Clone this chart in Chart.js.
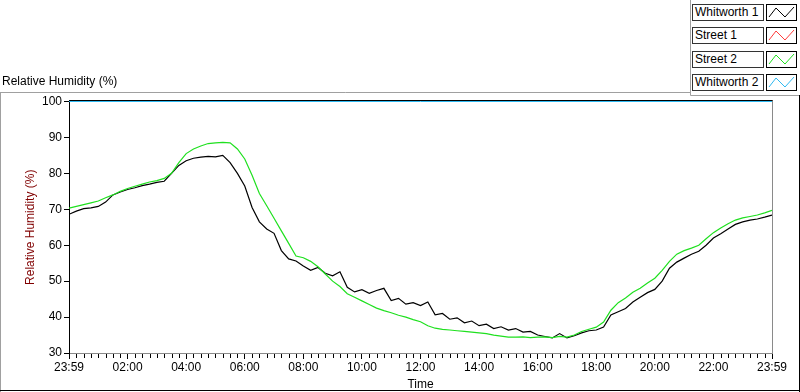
<!DOCTYPE html>
<html>
<head>
<meta charset="utf-8">
<script src="https://cdn.jsdelivr.net/npm/chart.js@4.4.1/dist/chart.umd.min.js"></script>
<style>
  body { margin: 0; background: #fff; font-family: "Liberation Sans", Arial, sans-serif; }
  #wrap { position: relative; width: 800px; height: 392px; overflow: hidden; }
  #myChart { position: absolute; left: 0; top: 0; }
  .caption { position: absolute; left: 2px; top: 74px; font-size: 12px; color: #000; }
  .lg-row { position: absolute; left: 692px; height: 16px; }
  .lg-text { position: absolute; left: 0; top: 0; border: 1px solid #333; background: #fff; font-size: 12px;
             line-height: 15px; padding-left: 2px; box-sizing: border-box; width: 72px; height: 17px; }
  .lg-swatch { position: absolute; left: 74px; top: 0; width: 31px; height: 17px; border: 1px solid #000;
               box-sizing: border-box; background: #fff; }
</style>
</head>
<body>
<div id="wrap">
  <canvas id="myChart" width="800" height="392"></canvas>
  <div class="caption">Relative Humidity (%)</div>
  <div id="legend"></div>
</div>
<script>
// series names + colours
var seriesNames = ["Whitworth 1", "Street 1", "Street 2", "Whitworth 2"];
var seriesColors = ["#000000", "#ff3b3b", "#1fe01f", "#2eb8f0"];

// time in hours since 23:59 (readings every 15 min)
var hours = [];
for (var i = 0; i <= 96; i++) { hours.push(i / 4); }

var xTickLabels = ["23:59", "02:00", "04:00", "06:00", "08:00", "10:00", "12:00",
                   "14:00", "16:00", "18:00", "20:00", "22:00", "23:59"];

// Whitworth 1 (black)
var whitworth1 = [
  68.6, 69.5, 70.2, 70.4, 70.8, 72.0, 74.0, 74.8, 75.5, 76.0, 76.6, 77.0,
  77.5, 77.8, 80.0, 82.2, 83.5, 84.2, 84.5, 84.7, 84.6, 85.0, 83.0, 80.0,
  76.5, 70.5, 66.5, 64.5, 63.3, 58.5, 56.2, 55.6, 54.2, 53.0, 53.8, 52.2,
  51.5, 52.6, 48.3, 47.0, 47.6, 46.6, 47.4, 48.0, 44.6, 45.2, 43.6, 44.0,
  43.2, 44.2, 40.6, 41.0, 39.4, 39.8, 38.4, 38.9, 37.6, 38.0, 36.8, 37.3,
  36.4, 36.8, 35.8, 36.0, 35.0, 34.6, 34.2, 35.4, 34.2, 34.8, 35.6, 36.2,
  36.4, 37.2, 40.6, 41.5, 42.4, 44.2, 45.5, 46.8, 47.7, 50.0, 53.6, 55.3,
  56.4, 57.5, 58.3, 60.0, 62.0, 63.2, 64.5, 65.8, 66.5, 67.0, 67.3, 67.8,
  68.4
];

// Street 1 (red) - nothing visible on the plot
var street1 = [];

// Street 2 (green)
var street2 = [
  70.3, 70.8, 71.3, 71.8, 72.3, 73.2, 74.0, 75.0, 75.8, 76.4, 77.0, 77.6,
  78.0, 78.6, 80.0, 83.0, 85.5, 86.8, 87.6, 88.3, 88.5, 88.6, 88.5, 86.8,
  84.0, 79.5, 74.4, 71.0, 67.5, 64.0, 60.5, 57.0, 56.5, 55.5, 54.0, 52.0,
  50.0, 48.5, 46.5, 45.5, 44.5, 43.5, 42.5, 41.8, 41.2, 40.5, 40.0, 39.3,
  38.7, 37.6, 36.9, 36.6, 36.4, 36.2, 36.0, 35.8, 35.6, 35.4, 35.0, 34.7,
  34.4, 34.4, 34.5, 34.3, 34.4, 34.5, 34.3, 34.6, 34.4, 35.0, 36.0, 36.6,
  37.2, 38.6, 41.9, 44.0, 45.3, 46.9, 48.0, 49.5, 50.8, 53.0, 55.5, 57.5,
  58.5, 59.2, 60.0, 61.8, 63.5, 64.8, 66.0, 67.0, 67.6, 68.0, 68.4, 69.0,
  69.7
];

// Whitworth 2 (blue) sits on the top of the scale
var whitworth2Hours = [0, 24];
var whitworth2 = [100, 100];

function toPoints(xs, ys) {
  var pts = [];
  for (var k = 0; k < ys.length; k++) { pts.push({ x: xs[k], y: ys[k] }); }
  return pts;
}

// legend boxes on the top right
var legendHtml = "";
var rowTops = [4, 27, 51, 74];
for (var s = 0; s < seriesNames.length; s++) {
  legendHtml += '<div class="lg-row" style="top:' + rowTops[s] + 'px">' +
    '<div class="lg-text">' + seriesNames[s] + '</div>' +
    '<div class="lg-swatch"><svg width="29" height="15">' +
    '<polyline points="2,12 9,3 18,12 27,2" fill="none" stroke="' + seriesColors[s] + '" stroke-width="1"/>' +
    '</svg></div></div>';
}
document.getElementById("legend").innerHTML = legendHtml;

// frame, minor ticks and panel lines
var framePlugin = {
  id: "frame",
  afterDraw: function(chart) {
    var ctx = chart.ctx;
    var a = chart.chartArea;
    var xs = chart.scales.x;
    ctx.save();
    ctx.lineWidth = 1;
    // top line of plot, just above the blue trace
    ctx.strokeStyle = "#000";
    ctx.beginPath(); ctx.moveTo(a.left, a.top - 1); ctx.lineTo(a.right + 1, a.top - 1); ctx.stroke();
    // right border
    ctx.strokeStyle = "#8a8a8a";
    ctx.beginPath(); ctx.moveTo(Math.round(a.right) + 0.5, a.top - 1); ctx.lineTo(Math.round(a.right) + 0.5, a.bottom); ctx.stroke();
    // minor ticks every 15 minutes
    ctx.strokeStyle = "#000";
    for (var m = 0; m <= 96; m++) {
      if (m % 8 === 0) continue;
      var px = Math.round(xs.getPixelForValue(m / 4)) + 0.5;
      ctx.beginPath(); ctx.moveTo(px, a.bottom + 1); ctx.lineTo(px, a.bottom + 5); ctx.stroke();
    }
    // outer panel
    ctx.strokeStyle = "#a0a0a0";
    ctx.beginPath(); ctx.moveTo(0, 92.5); ctx.lineTo(690.5, 92.5); ctx.stroke();
    ctx.beginPath(); ctx.moveTo(690.5, 0); ctx.lineTo(690.5, 95.5); ctx.lineTo(800, 95.5); ctx.stroke();
    ctx.beginPath(); ctx.moveTo(0.5, 92); ctx.lineTo(0.5, 392); ctx.stroke();
    ctx.strokeStyle = "#000";
    ctx.beginPath(); ctx.moveTo(0, 390.5); ctx.lineTo(800, 390.5); ctx.stroke();
    ctx.beginPath(); ctx.moveTo(799.5, 95); ctx.lineTo(799.5, 392); ctx.stroke();
    ctx.restore();
  }
};

var fontFamily = "'Liberation Sans', Arial, sans-serif";

var chart = new Chart(document.getElementById("myChart").getContext("2d"), {
  type: "line",
  data: {
    datasets: [
      { label: seriesNames[3], data: toPoints(whitworth2Hours, whitworth2), borderColor: seriesColors[3], borderWidth: 1, clip: 2 },
      { label: seriesNames[1], data: street1, borderColor: seriesColors[1], borderWidth: 1 },
      { label: seriesNames[2], data: toPoints(hours, street2), borderColor: seriesColors[2], borderWidth: 1.2 },
      { label: seriesNames[0], data: toPoints(hours, whitworth1), borderColor: seriesColors[0], borderWidth: 1.2 }
    ]
  },
  options: {
    responsive: false,
    animation: false,
    devicePixelRatio: 1,
    layout: { padding: { left: 0, top: 101.5, right: 28, bottom: 0 } },
    elements: { point: { radius: 0 }, line: { tension: 0 } },
    plugins: { legend: { display: false }, tooltip: { enabled: false } },
    scales: {
      x: {
        type: "linear",
        min: 0,
        max: 24,
        afterFit: function(scale) { scale.height = 39; },
        border: { color: "#8a8a8a", width: 1 },
        grid: { drawOnChartArea: false, drawTicks: true, tickLength: 6, tickColor: "#000", tickWidth: 1 },
        ticks: {
          stepSize: 2,
          autoSkip: false,
          maxRotation: 0,
          padding: 1,
          color: "#000",
          font: { family: fontFamily, size: 12 },
          callback: function(v) { return xTickLabels[Math.round(v / 2)]; }
        },
        title: { display: true, text: "Time", color: "#000", font: { family: fontFamily, size: 12 }, padding: { top: 1, bottom: 0 } }
      },
      y: {
        min: 30,
        max: 100,
        afterFit: function(scale) { scale.width = 69; },
        border: { color: "#000", width: 1 },
        grid: { drawOnChartArea: false, drawTicks: true, tickLength: 5, tickColor: "#000" },
        ticks: {
          stepSize: 10,
          padding: 2,
          color: "#000",
          font: { family: fontFamily, size: 12 }
        },
        title: { display: true, text: "Relative Humidity (%)", color: "#800000", font: { family: fontFamily, size: 12 }, padding: { top: 23, bottom: 0 } }
      }
    }
  },
  plugins: [framePlugin]
});
</script>
</body>
</html>
